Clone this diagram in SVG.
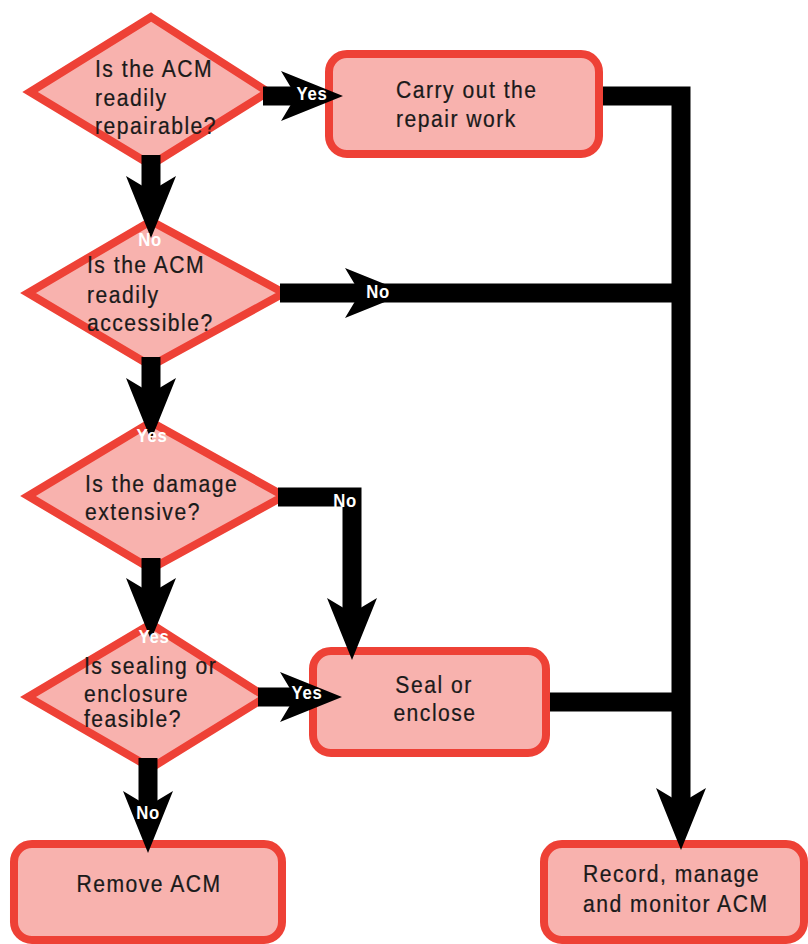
<svg xmlns="http://www.w3.org/2000/svg" xmlns:xlink="http://www.w3.org/1999/xlink" width="808" height="944" viewBox="0 0 808 944">
<style>
.node{fill:#f8b2ae;stroke:#ee4136;stroke-width:8;stroke-linejoin:miter}
.box{fill:#f8b2ae;stroke:#ee4136;stroke-width:8}
.t{font-family:"Liberation Sans",Arial,sans-serif;font-size:24px;letter-spacing:1.7px;fill:#1a1a1a;stroke:#1a1a1a;stroke-width:0.25}
.c{text-anchor:middle}
.bar{fill:none;stroke:#000;stroke-width:19;stroke-linejoin:miter}
.lab{font-family:"Liberation Sans",Arial,sans-serif;font-size:19px;font-weight:bold;letter-spacing:0.8px;fill:#fff;text-anchor:middle}
</style>
<defs>
<path id="head" d="M0,-25 L62,0 L0,25 L15,0 Z" fill="#000"/>
<marker id="ah" markerUnits="userSpaceOnUse" viewBox="-5 -30 75 60" markerWidth="75" markerHeight="60" refX="22" refY="0" orient="auto" overflow="visible">
<use xlink:href="#head" href="#head"/>
</marker>
</defs>
<rect width="808" height="944" fill="#fff"/>
<g id="d1"><polygon class="node" points="151,17 268,92 151,165 30,92"/>
<text class="t" transform="translate(95,77) scale(0.88,1)">Is the ACM</text><text class="t" transform="translate(95,106) scale(0.88,1)">readily</text><text class="t" transform="translate(95,134) scale(0.88,1)">repairable?</text></g>
<g id="d2"><polygon class="node" points="151,221 284,293 151,366 28,293"/>
<text class="t" transform="translate(87,273) scale(0.88,1)">Is the ACM</text><text class="t" transform="translate(87,303) scale(0.88,1)">readily</text><text class="t" transform="translate(87,331) scale(0.88,1)">accessible?</text></g>
<g id="d3"><polygon class="node" points="151,422 284,496 151,569 28,496"/>
<text class="t" transform="translate(85,492) scale(0.88,1)">Is the damage</text><text class="t" transform="translate(85,520) scale(0.88,1)">extensive?</text></g>
<g id="d4"><polygon class="node" points="151,624 266,697 151,768 28,697"/>
<text class="t" transform="translate(84,674) scale(0.88,1)">Is sealing or</text><text class="t" transform="translate(84,702) scale(0.88,1)">enclosure</text><text class="t" transform="translate(84,727) scale(0.88,1)">feasible?</text></g>
<g id="carry"><rect class="box" x="329" y="54" width="270" height="100" rx="18"/>
<text class="t" transform="translate(396,98) scale(0.88,1)">Carry out the</text><text class="t" transform="translate(396,127) scale(0.88,1)">repair work</text></g>
<g id="seal"><rect class="box" x="313" y="651" width="233" height="102" rx="18"/>
<text class="t c" transform="translate(434,693) scale(0.88,1)">Seal or</text><text class="t c" transform="translate(435,721) scale(0.88,1)">enclose</text></g>
<g id="remove"><rect class="box" x="14" y="844" width="268" height="96" rx="18"/>
<text class="t c" transform="translate(149,892) scale(0.88,1)">Remove ACM</text></g>
<g id="record"><rect class="box" x="544" y="844" width="260" height="96" rx="18"/>
<text class="t" transform="translate(583,882) scale(0.88,1)">Record, manage</text><text class="t" transform="translate(583,912) scale(0.88,1)">and monitor ACM</text></g>
<g id="connectors">
<path class="bar" d="M263,96 H303" marker-end="url(#ah)"/>
<path class="bar" d="M151,155 V198" marker-end="url(#ah)"/>
<path class="bar" d="M280,293 H681"/>
<use xlink:href="#head" href="#head" transform="translate(345,293)"/>
<path class="bar" d="M603,96 H681 V810" marker-end="url(#ah)"/>
<path class="bar" d="M151,357 V400" marker-end="url(#ah)"/>
<path class="bar" d="M278,497 H352 V620" marker-end="url(#ah)"/>
<path class="bar" d="M151,558 V600" marker-end="url(#ah)"/>
<path class="bar" d="M258,697 H302" marker-end="url(#ah)"/>
<path class="bar" d="M550,702 H681"/>
<path class="bar" d="M148,758 V813" marker-end="url(#ah)"/>
</g>
<g id="labels">
<text class="lab" transform="translate(312,100) scale(0.88,1)">Yes</text>
<text class="lab" transform="translate(150,246) scale(0.88,1)">No</text>
<text class="lab" transform="translate(378,298) scale(0.88,1)">No</text>
<text class="lab" transform="translate(152,442) scale(0.88,1)">Yes</text>
<text class="lab" transform="translate(345,507) scale(0.88,1)">No</text>
<text class="lab" transform="translate(154,643) scale(0.88,1)">Yes</text>
<text class="lab" transform="translate(307,699) scale(0.88,1)">Yes</text>
<text class="lab" transform="translate(148,819) scale(0.88,1)">No</text>
</g>
</svg>
